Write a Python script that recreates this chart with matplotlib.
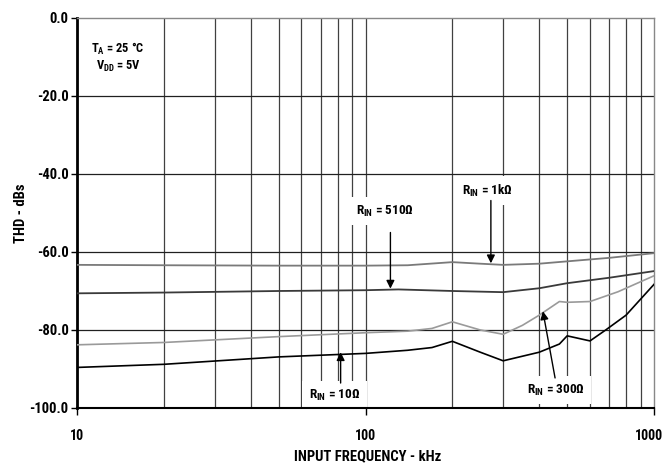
import numpy as np
import matplotlib
matplotlib.use("Agg")
import matplotlib.pyplot as plt
import matplotlib.transforms as mtransforms
from matplotlib.ticker import FixedLocator, NullFormatter

# THD vs input frequency, four source resistances
freq_1k = [10, 20, 50, 100, 140, 200, 250, 300, 400, 500, 700, 1000]
thd_1k = [-63.3, -63.4, -63.5, -63.5, -63.4, -62.6, -63.0, -63.3, -63.0, -62.4, -61.5, -60.3]

freq_510 = [10, 20, 50, 100, 130, 200, 300, 400, 500, 700, 1000]
thd_510 = [-70.6, -70.4, -70.0, -69.8, -69.6, -70.0, -70.3, -69.3, -68.0, -66.6, -64.9]

freq_300 = [10, 20, 50, 100, 140, 170, 200, 250, 300, 350, 400, 470, 500, 600, 750, 1000]
thd_300 = [-83.8, -83.2, -81.7, -80.7, -80.3, -79.6, -77.9, -80.0, -81.1, -78.8, -76.2,
           -72.7, -72.9, -72.7, -70.2, -66.1]

freq_10 = [10, 20, 50, 100, 140, 170, 200, 250, 300, 400, 470, 500, 600, 680, 800, 1000]
thd_10 = [-89.6, -88.8, -86.9, -86.0, -85.2, -84.5, -82.9, -85.7, -87.9, -85.7, -83.6,
          -81.5, -82.8, -80.0, -76.2, -68.3]

yticks = [0, -20, -40, -60, -80, -100]
xticks = [10, 100, 1000]
xgrid = [20, 30, 40, 50, 60, 70, 80, 90, 200, 300, 400, 500, 600, 700, 800, 900]

plt.rcParams['font.family'] = ['Roboto Condensed', 'Liberation Sans', 'DejaVu Sans']
plt.rcParams['font.weight'] = 'bold'
plt.rcParams['mathtext.fontset'] = 'custom'
plt.rcParams['mathtext.rm'] = 'Roboto Condensed:bold'
plt.rcParams['mathtext.default'] = 'rm'

fig = plt.figure(figsize=(6.66, 4.65), dpi=100)
ax = fig.add_axes([0.1156, 0.1226, 0.8664, 0.8387])

ax.set_xscale('log')
ax.set_xlim(10, 1000)
ax.set_ylim(-100, 0)

# grid
for f in xgrid + [100]:
    ax.axvline(f, color='#404040', lw=0.9, zorder=1)
for y in yticks[1:-1]:
    ax.axhline(y, color='#202020', lw=0.9, zorder=1)

ax.plot(freq_1k, thd_1k, color='#7a7a7a', lw=1.3, zorder=3)
ax.plot(freq_510, thd_510, color='#3a3a3a', lw=1.3, zorder=3)
ax.plot(freq_300, thd_300, color='#9a9a9a', lw=1.2, zorder=3)
ax.plot(freq_10, thd_10, color='#000000', lw=1.2, zorder=3)

ax.xaxis.set_major_locator(FixedLocator(xticks))
ax.xaxis.set_minor_locator(FixedLocator(xgrid))
ax.xaxis.set_minor_formatter(NullFormatter())
ax.set_xticklabels(['10', '100', '1000'])
ax.set_yticks(yticks)
ax.set_yticklabels(['%.1f' % v for v in yticks])
ax.tick_params(axis='x', which='major', length=5, width=1, pad=10, labelsize=10)
ax.tick_params(axis='x', which='minor', length=0)
ax.tick_params(axis='y', length=4, width=1, pad=2, labelsize=10.5)

# keep the last x label inside the canvas
lbl = ax.get_xticklabels()[-1]
lbl.set_transform(lbl.get_transform() + mtransforms.ScaledTranslation(-0.05, 0, fig.dpi_scale_trans))

for s in ['top', 'right']:
    ax.spines[s].set_color('#888888')
    ax.spines[s].set_linewidth(1)
ax.spines['left'].set_linewidth(2)
ax.spines['bottom'].set_linewidth(1.5)

ax.set_xlabel('INPUT FREQUENCY - kHz', fontsize=10.5, fontweight='bold')
ax.set_ylabel('THD - dBs', fontsize=10.5, fontweight='bold')
ax.xaxis.set_label_coords(0.504, -0.107)
ax.yaxis.set_label_coords(-0.085, 0.5)

ax.text(13.9, -8.0, 'T$_{A}$ = 25 °C', fontsize=9, ha='center', va='center')
ax.text(13.9, -12.5, 'V$_{DD}$ = 5V', fontsize=9, ha='center', va='center')

box = dict(boxstyle='square,pad=0.5', fc='white', ec='none')
arrow = dict(arrowstyle='-|>', color='black', lw=1, mutation_scale=12, shrinkA=0, shrinkB=0)

ax.text(264, -44.3, 'R$_{IN}$ = 1kΩ', fontsize=9.5, ha='center', va='center', bbox=box, zorder=2)
ax.annotate('', xy=(272, -62.9), xytext=(272, -46.8), arrowprops=arrow, zorder=4)

ax.text(117, -49.5, 'R$_{IN}$ = 510Ω', fontsize=9.5, ha='center', va='center', bbox=box, zorder=2)
ax.annotate('', xy=(122, -69.4), xytext=(122, -55.0), arrowprops=arrow, zorder=4)

ax.text(78, -96.7, 'R$_{IN}$ = 10Ω', fontsize=9.5, ha='center', va='center', bbox=box, zorder=2)
ax.annotate('', xy=(82, -85.7), xytext=(82, -93.6), arrowprops=arrow, zorder=4)

ax.text(457, -95.4, 'R$_{IN}$ = 300Ω', fontsize=9.5, ha='center', va='center', bbox=box, zorder=2)
ax.annotate('', xy=(412, -75.2), xytext=(454, -92.3), arrowprops=arrow, zorder=4)

fig.savefig('out.png', dpi=100)
